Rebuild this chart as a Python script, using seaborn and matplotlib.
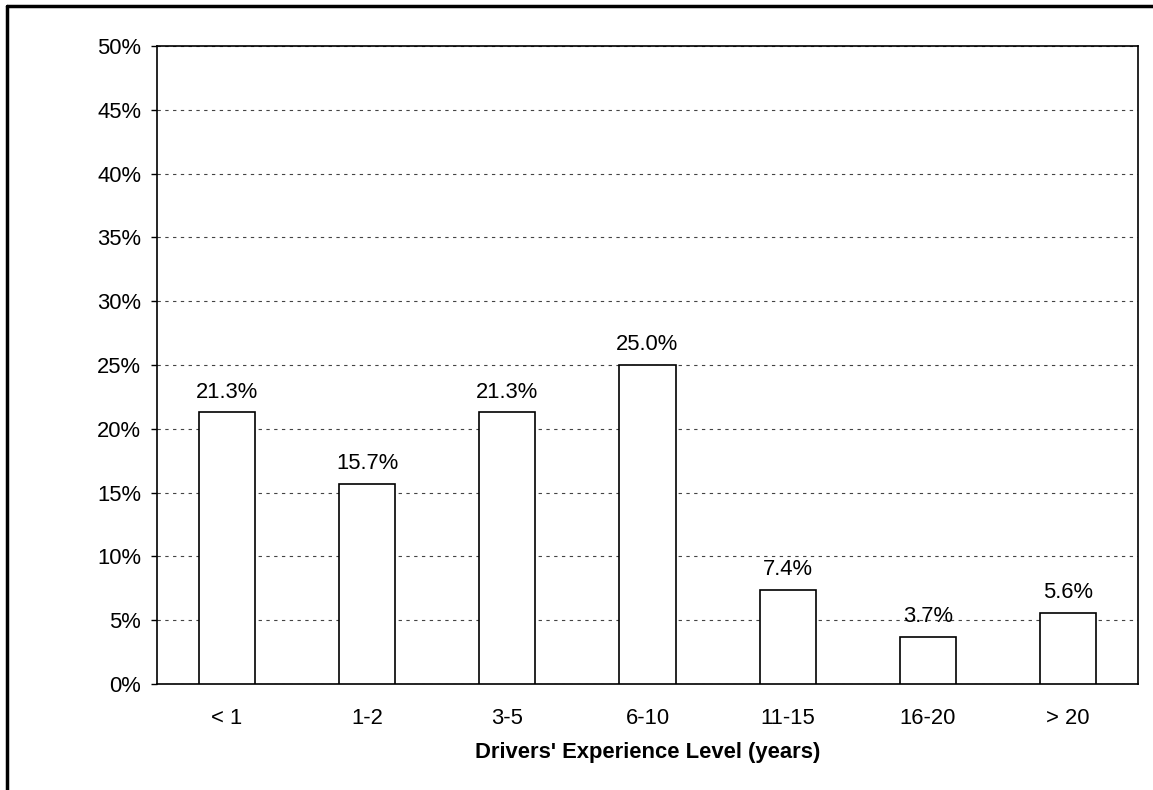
import matplotlib
matplotlib.use("Agg")
import matplotlib.pyplot as plt
import seaborn as sns
import pandas as pd
from matplotlib.lines import Line2D

categories = ["< 1", "1-2", "3-5", "6-10", "11-15", "16-20", "> 20"]
shares = [21.3, 15.7, 21.3, 25.0, 7.4, 3.7, 5.6]
y_ticks = [0, 5, 10, 15, 20, 25, 30, 35, 40, 45, 50]

sns.set_style("white")
plt.rcParams["font.family"] = ["Liberation Sans", "DejaVu Sans"]
plt.rcParams["text.color"] = "black"
plt.rcParams["axes.labelcolor"] = "black"
plt.rcParams["xtick.color"] = "black"
plt.rcParams["ytick.color"] = "black"

FS = 15.8

df = pd.DataFrame({"level": categories, "share": shares})

fig = plt.figure(figsize=(11.53, 7.90), dpi=100)
ax = fig.add_axes([157 / 1153, 1 - 684 / 790, 981 / 1153, 638 / 790])

sns.barplot(data=df, x="level", y="share", order=categories, color="white",
            edgecolor="black", linewidth=1.2, width=0.4, ax=ax, zorder=3)
for p in ax.patches:
    p.set_facecolor("white")

ax.set_ylim(0, 50)
ax.set_xlim(-0.5, len(categories) - 0.5)
ax.set_yticks(y_ticks)
ax.set_yticklabels([f"{t}%" for t in y_ticks])
ax.yaxis.grid(True, linestyle=(0, (3, 4)), color="#444444", linewidth=0.8, zorder=0)
ax.xaxis.grid(False)
ax.set_axisbelow(True)

for s in ax.spines.values():
    s.set_visible(True)
    s.set_color("black")
    s.set_linewidth(1.2)

ax.tick_params(axis="y", which="both", left=True, length=4.5, width=1, color="black",
               labelsize=FS, pad=7, labelcolor="black")
ax.tick_params(axis="x", bottom=False, labelsize=FS, pad=14, labelcolor="black")

for i, v in enumerate(shares):
    ax.text(i, v + 0.75, f"{v:.1f}%", ha="center", va="bottom", fontsize=FS,
            color="black")

ax.set_xlabel("Drivers' Experience Level (years)", fontsize=FS, fontweight="bold",
              labelpad=9, color="black")
ax.set_ylabel("")

# outer frame of the figure (left and top edges)
fig.add_artist(Line2D([7 / 1153, 7 / 1153], [0, 1 - 6 / 790], transform=fig.transFigure,
                      color="black", linewidth=2.5))
fig.add_artist(Line2D([7 / 1153, 1], [1 - 6 / 790, 1 - 6 / 790], transform=fig.transFigure,
                      color="black", linewidth=2.5))

fig.savefig("out.png", dpi=100, facecolor="white")
